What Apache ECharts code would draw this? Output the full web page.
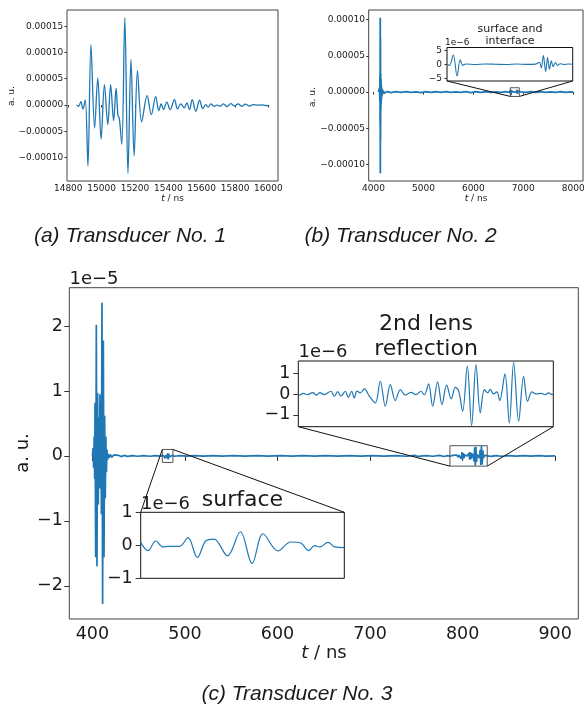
<!DOCTYPE html>
<html><head><meta charset="utf-8">
<script src="https://cdn.jsdelivr.net/npm/echarts@6/dist/echarts.min.js"></script>
<style>html,body{margin:0;padding:0;background:#fff}#c{width:584px;height:709px}</style>
</head><body><div id="c"></div>
<script>
// ---------------- data ----------------
// (a) Transducer No. 1 : [t / ns, a.u. x 1e-5]
const aPoints = [[14850,0],[14862,-0.25],[14876,0.65],[14888,-0.8],[14902,0.95],[14918,-11.6],[14936,11.5],[14958,-4.4],[14977,5.15],[14997,-6.5],[15017,3.85],[15037,-3.75],[15054,3.85],[15072,-3.0],[15087,3.2],[15098,-2.0],[15106,-2.5],[15121,-7.45],[15139,16.6],[15158,-13.0],[15176,8.65],[15195,-9.7],[15215,6.55],[15240,-3.2],[15273,1.75],[15298,-1.85],[15324,1.6],[15343,-1.1],[15357,0.2],[15371,-0.9],[15391,0.55],[15411,-0.9],[15437,1.0],[15455,-0.75],[15475,0.2],[15495,-0.55],[15511,0.4],[15527,-0.9],[15543,1.0],[15565,-1.2],[15587,0.9],[15607,-0.7],[15623,0.05],[15639,-0.4],[15655,0.2],[15675,-0.25],[15691,-0.05],[15711,-0.25],[15730,0.2],[15752,-0.3],[15774,0.25],[15796,-0.2],[15818,0.2],[15840,-0.25],[15862,0.15],[15885,-0.2],[15910,0.05],[15935,-0.05],[15960,0.02],[15980,-0.1],[16000,-0.12]];
// (b) Transducer No. 2 main trace : [t / ns, a.u. x 1e-5]
const bPoints = [[4100,0],[4110,0.15],[4118,-0.25],[4124,0.6],[4128,-1.2],[4131,2.4],[4134,-4.5],[4136,10.26],[4138,-11.2],[4140,7.5],[4142,-6.5],[4145,2.6],[4148,-2.4],[4151,1.8],[4154,-1.6],[4158,1.0],[4162,-0.9],[4167,0.5],[4172,-0.45],[4180,0.3],[4190,-0.25],[4200,0.2],[4215,-0.15],[4230,0.12],[4250,-0.1],[4280,0.08],[4350,-0.06],[4450,0.05],[4550,-0.05],[4650,0.06],[4750,-0.05],[4850,0.04],[4950,-0.06],[5050,0.05],[5150,-0.04],[5250,0.05],[5350,-0.05],[5450,0.06],[5550,-0.05],[5650,0.04],[5750,-0.05],[5850,0.05],[5950,-0.06],[6050,0.05],[6150,-0.04],[6250,0.05],[6350,-0.05],[6450,0.04],[6550,-0.05],[6650,0.05],[6720,-0.03],[6950,0.04],[7050,-0.05],[7150,0.05],[7250,-0.04],[7350,0.05],[7450,-0.05],[7550,0.04],[7650,-0.05],[7750,0.05],[7850,-0.04],[7950,0.03],[8000,0]];
// (b) inset "surface and interface" : [t / ns, a.u. x 1e-6]
const bInsetPoints = [[6740,0],[6743.6,-0.4],[6749,3.3],[6754.4,-4.2],[6758.9,1.6],[6762.5,-0.4],[6767,0.1],[6780,-0.1],[6795,0.1],[6810,0],[6825,-0.1],[6840,0.1],[6855,-0.05],[6867,0.05],[6872.3,0.7],[6875,-1.3],[6878,3.1],[6881.3,-2.6],[6884,2.4],[6886.7,-1.8],[6889.4,1.2],[6892.1,-0.9],[6895.2,0.6],[6898.4,-0.4],[6902,0.2],[6907.4,-0.1],[6914,0.1],[6920,0]];
const bInsetX = [6740, 6920];
const bInsetY = [-6, 6];
// (c) Transducer No. 3 main trace : [t / ns, a.u. x 1e-5]
const cPoints = [[400.0,0],[400.7,0.12],[401.3,-0.18],[401.9,0.3],[402.4,-0.35],[402.8,0.82],[403.5,-1.56],[404.2,2.02],[404.9,-1.7],[405.6,0.97],[406.3,-0.75],[406.9,0.6],[407.5,-0.5],[408.1,0.95],[408.7,-0.5],[409.2,0.7],[409.7,-0.9],[410.3,2.36],[411.0,-2.28],[411.8,1.78],[412.5,-1.56],[413.2,0.62],[413.9,-0.65],[414.5,0.3],[415.1,-0.25],[415.7,0.1],[416.3,-0.06],[417.2,0.03],[418.2,-0.025],[419.5,0.02],[421,-0.02],[423,0.015],[425,-0.012],[428,0.01],[431,-0.01],[434,0.008],[438,-0.006],[443,0.006],[449,-0.005],[455,0.005],[462,-0.005],[468,0.005],[474,-0.004],[489,-0.005],[495,0.005],[502,-0.004],[510,0.004],[520,-0.004],[530,0.004],[540,-0.004],[552,0.004],[565,-0.004],[578,0.004],[590,-0.004],[603,0.004],[615,-0.004],[628,0.004],[640,-0.004],[652,0.004],[665,-0.004],[678,0.004],[690,-0.004],[702,0.004],[715,-0.004],[728,0.004],[740,-0.005],[748,0.008],[752,-0.008],[760,0.005],[768,-0.005],[775,0.008],[780,-0.008],[784,0.005],[830,-0.006],[836,0.005],[842,-0.005],[850,0.005],[858,-0.004],[866,0.004],[874,-0.004],[882,0.004],[890,-0.004],[900,0]];
// (c) inset "surface" : [t / ns, a.u. x 1e-6]
const surfPoints = [[475.5,0.09],[475.91,-0.16],[476.35,0.13],[476.76,-0.05],[477.04,-0.03],[477.70,-0.03],[478.17,0.23],[478.70,-0.37],[479.17,0.13],[479.64,0.19],[480.40,-0.32],[481.13,0.41],[481.79,-0.55],[482.41,0.35],[483.25,-0.17],[483.97,0.10],[484.54,0.07],[484.99,-0.16],[485.32,-0.01],[485.61,-0.05],[486.08,0.09],[486.46,-0.05],[487.0,-0.07]];
const surfX = [475.5, 487];
const surfY = [-1, 1];
// (c) inset "2nd lens reflection" : [t / ns, a.u. x 1e-6]
const lensPoints = [[786.3,-0.05],[786.46,-0.06],[787.09,0.03],[787.77,-0.03],[788.57,0.06],[789.20,-0.06],[789.72,0.06],[790.41,-0.03],[791.46,0.13],[791.99,-0.11],[792.52,0.11],[793.04,-0.11],[793.73,0.13],[794.20,-0.16],[794.73,0.13],[795.15,-0.19],[795.57,0.14],[796.10,0.05],[796.73,0.24],[797.52,-0.1],[798.47,-0.43],[799.26,0.61],[800.05,-0.59],[800.84,0.45],[801.63,-0.32],[802.42,0.21],[803.21,-0.06],[804.11,0.08],[804.90,-0.03],[805.69,0.13],[806.21,-0.05],[806.90,0.48],[807.53,-0.59],[808.32,0.58],[809.00,-0.51],[809.74,0.42],[810.48,-0.24],[811.11,0.32],[811.64,0.15],[812.27,-0.83],[813.01,1.33],[813.69,-1.52],[814.38,1.41],[815.06,-0.91],[815.70,0.21],[816.22,0.05],[816.64,0.22],[817.12,0.0],[817.70,0.1],[818.12,-0.32],[818.96,0.96],[819.65,-1.39],[820.33,1.52],[821.12,-1.31],[821.91,0.85],[822.54,-0.35],[823.23,0.1],[823.86,0.0],[824.65,0.03],[825.34,-0.03],[825.86,0.05],[826.39,-0.03],[826.6,0]];
const lensX = [786.3, 826.6];
const lensY = [-1.57, 1.58];
// tick values
const aXTicks = [14800, 15000, 15200, 15400, 15600, 15800, 16000];
const aYTicks = [-10, -5, 0, 5, 10, 15];          // x 1e-5
const bXTicks = [4000, 5000, 6000, 7000, 8000];
const bYTicks = [-10, -5, 0, 5, 10];              // x 1e-5
const cXTicks = [400, 500, 600, 700, 800, 900];
const cYTicks = [-2, -1, 0, 1, 2];                // x 1e-5
const bInsetYTicks = [-5, 0, 5];                  // x 1e-6
const lensYTicks = [-1, 0, 1];
const surfYTicks = [-1, 0, 1];

// ---------------- layout ----------------
const FONT = "'DejaVu Sans', sans-serif";
const CAPFONT = "'Liberation Sans', Arial, sans-serif";
const BLUE = '#1f77b4';
const G = {
  a:    {left: 67,    top: 10,    width: 211,   height: 171},
  b:    {left: 368.7, top: 10,    width: 214.3, height: 171},
  c:    {left: 69.3,  top: 287.7, width: 509,   height: 331.3},
  bi:   {left: 447,   top: 47.5,  width: 125.7, height: 33.5},
  lens: {left: 298.3, top: 361,   width: 255,   height: 65.7},
  surf: {left: 140.7, top: 512.3, width: 203.6, height: 66}
};

function lim(arr) {
  const mn = Math.min(...arr), mx = Math.max(...arr), m = 0.05 * (mx - mn);
  return [mn - m, mx + m];
}
function merged(base, windows) {
  const pts = base.filter(p => !windows.some(w => p[0] >= w.x[0] && p[0] <= w.x[1]));
  windows.forEach(w => w.pts.forEach(p => pts.push([p[0], p[1] / 10])));
  pts.sort((p, q) => p[0] - q[0]);
  return pts;
}
const bAll = merged(bPoints, [{x: bInsetX, pts: bInsetPoints}]);
const cAll = merged(cPoints, [{x: surfX, pts: surfPoints}, {x: lensX, pts: lensPoints}]);

const aXR = lim(aPoints.map(p => p[0])), aYR = lim(aPoints.map(p => p[1]));
const bXR = lim(bAll.map(p => p[0])),    bYR = lim(bAll.map(p => p[1]));
const cXR = lim(cAll.map(p => p[0])),    cYR = lim(cAll.map(p => p[1]));

const minus = s => String(s).replace('-', '\u2212');
const sci5 = v => minus((v * 1e-5).toFixed(5));

function axis(gi, range, ticks, o) {
  const show = !!ticks;
  return {
    gridIndex: gi, type: 'value', min: range[0], max: range[1],
    axisLine: {show: false}, splitLine: {show: false},
    axisTick: {show: show, inside: false, length: o.tl || 0,
      lineStyle: {color: '#333', width: 1}, customValues: ticks || []},
    axisLabel: {show: show, customValues: ticks || [], hideOverlap: false,
      fontSize: o.fs || 9, fontFamily: FONT, color: '#1a1a1a', margin: o.m || 4,
      formatter: o.fmt || (v => minus(v))},
    z: o.z || 2
  };
}
function grid(g, inset) {
  return Object.assign({}, g, {show: true, containLabel: false, outerBoundsMode: 'none',
    backgroundColor: '#fff', borderColor: inset ? '#111' : '#444', borderWidth: 1, z: inset ? 5 : 0});
}
function line(xi, data, w, smooth, z) {
  return {type: 'line', xAxisIndex: xi, yAxisIndex: xi, data: data, showSymbol: false, symbol: 'none',
    smooth: smooth, lineStyle: {color: BLUE, width: w}, silent: true, z: z, animation: false};
}
function rect(xi, xr, yr) {
  return {type: 'line', xAxisIndex: xi, yAxisIndex: xi, showSymbol: false, symbol: 'none', silent: true,
    data: [[xr[0], yr[0]], [xr[1], yr[0]], [xr[1], yr[1]], [xr[0], yr[1]], [xr[0], yr[0]]],
    lineStyle: {color: '#555', width: 1}, z: 3, animation: false};
}

const chart = echarts.init(document.getElementById('c'), null, {renderer: 'canvas', width: 584, height: 709});
chart.setOption({
  animation: false,
  grid: [grid(G.a), grid(G.b), grid(G.c), grid(G.bi, true), grid(G.lens, true), grid(G.surf, true)],
  xAxis: [
    axis(0, aXR, aXTicks, {fs: 9, tl: 2.5, m: 3.5}),
    axis(1, bXR, bXTicks, {fs: 9, tl: 2.5, m: 3.5}),
    axis(2, cXR, cXTicks, {fs: 17.5, tl: 5, m: 6.5}),
    axis(3, bInsetX, null, {z: 6}),
    axis(4, lensX, null, {z: 6}),
    axis(5, surfX, null, {z: 6})
  ],
  yAxis: [
    axis(0, aYR, aYTicks, {fs: 9, tl: 2.5, m: 3.8, fmt: sci5}),
    axis(1, bYR, bYTicks, {fs: 9, tl: 2.5, m: 3.8, fmt: sci5}),
    axis(2, cYR, cYTicks, {fs: 17.5, tl: 5, m: 6.5}),
    axis(3, bInsetY, bInsetYTicks, {fs: 9, tl: 2.5, m: 5, z: 6}),
    axis(4, lensY, lensYTicks, {fs: 17.5, tl: 5, m: 8, z: 6}),
    axis(5, surfY, surfYTicks, {fs: 17.5, tl: 5, m: 8, z: 6})
  ],
  series: [
    line(0, aPoints, 1.3, 0.35, 2),
    line(1, bAll, 1.8, false, 2),
    line(2, cAll, 1.7, false, 2),
    rect(1, bInsetX, bInsetY.map(v => v / 10)),
    rect(2, lensX, lensY.map(v => v / 10)),
    rect(2, surfX, surfY.map(v => v / 10)),
    line(3, bInsetPoints, 1.1, 0.35, 8),
    line(4, lensPoints, 1.2, 0.35, 8),
    line(5, surfPoints, 1.2, 0.35, 8)
  ]
});

// connectors (inset corner <-> zoom rectangle corner), positions from the axes
const px = (gi, pt) => chart.convertToPixel({gridIndex: gi}, pt);
function conn(giIn, giMain, xr, yv) {
  return xr.map(x => {
    const a = px(giIn, [x, yv]), b = px(giMain, [x, yv / 10]);
    return {type: 'line', shape: {x1: a[0], y1: a[1], x2: b[0], y2: b[1]},
      style: {stroke: '#111', lineWidth: 1}, z: 50, silent: true};
  });
}
function txt(x, y, s, fs, o) {
  o = o || {};
  return {type: 'text', x: x, y: y, rotation: o.rot || 0, z: 60, silent: true,
    style: {text: s, fontSize: fs, fontFamily: o.ff || FONT, fontStyle: o.it ? 'italic' : 'normal',
      fill: '#1a1a1a', align: o.al || 'center', textAlign: o.al || 'center',
      verticalAlign: 'middle', textVerticalAlign: 'middle',
      rich: {i: {fontStyle: 'italic', fontSize: fs, fontFamily: FONT, fill: '#1a1a1a'}}}};
}
const els = [].concat(
  conn(3, 1, bInsetX, bInsetY[0]),
  conn(4, 2, lensX, lensY[0]),
  conn(5, 2, surfX, surfY[1]),
  [
    txt(11.8, 96, 'a. u.', 9, {rot: Math.PI / 2}),
    txt(172.5, 198.5, '{i|t} / ns', 9),
    txt(312.8, 97, 'a. u.', 9, {rot: Math.PI / 2}),
    txt(476, 198.5, '{i|t} / ns', 9),
    txt(510, 29.5, 'surface and', 11),
    txt(510, 41, 'interface', 11),
    txt(445, 42.5, '1e\u22126', 9, {al: 'left'}),
    txt(69.5, 279.7, '1e\u22125', 18, {al: 'left'}),
    txt(23.7, 453, 'a. u.', 18, {rot: Math.PI / 2}),
    txt(324, 653.5, '{i|t} / ns', 18),
    txt(426, 324, '2nd lens', 22),
    txt(426, 349, 'reflection', 22),
    txt(298.5, 352.7, '1e\u22126', 18, {al: 'left'}),
    txt(242.5, 500, 'surface', 22),
    txt(141, 504.7, '1e\u22126', 18, {al: 'left'}),
    txt(130, 236, '(a) Transducer No. 1', 21, {ff: CAPFONT, it: true}),
    txt(400.7, 236, '(b) Transducer No. 2', 21, {ff: CAPFONT, it: true}),
    txt(297, 694, '(c) Transducer No. 3', 21, {ff: CAPFONT, it: true})
  ]
);
chart.setOption({graphic: {elements: els}});
</script>
</body></html>
